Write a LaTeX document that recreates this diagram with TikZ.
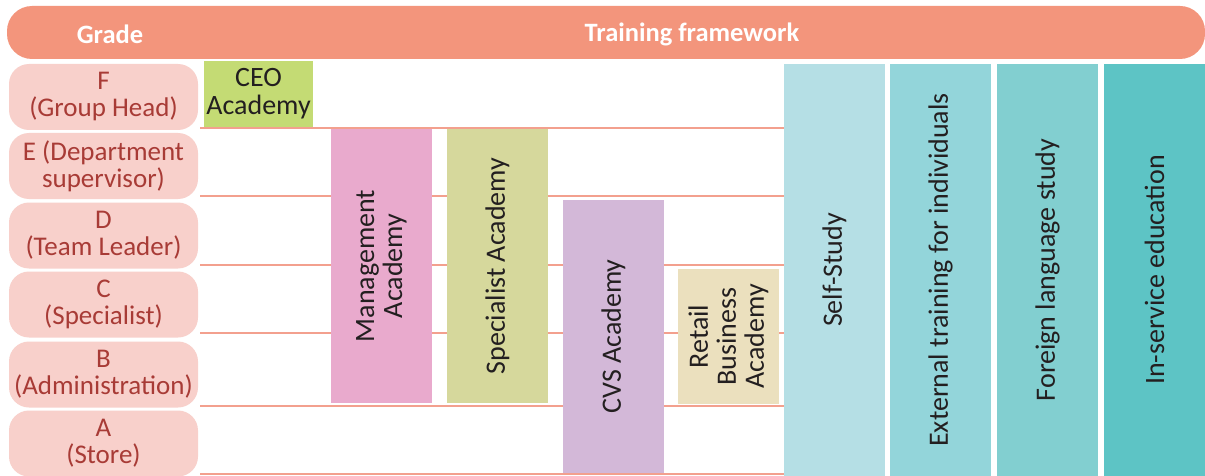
\documentclass[tikz,border=0pt]{standalone}
\usepackage{fontspec}
\setmainfont{Carlito}
\definecolor{hdrc}{HTML}{F3957C}
\definecolor{pillc}{HTML}{F8D0CB}
\definecolor{gradetxt}{HTML}{A83B36}
\definecolor{linec}{HTML}{F3A08E}
\definecolor{txtc}{HTML}{231F20}
\definecolor{ceoc}{HTML}{C4DB74}
\definecolor{mgmtc}{HTML}{E9AACD}
\definecolor{specc}{HTML}{D6D89C}
\definecolor{cvsc}{HTML}{D3B8D8}
\definecolor{retc}{HTML}{EBE0BE}
\definecolor{selfc}{HTML}{B5DFE5}
\definecolor{extc}{HTML}{93D5DA}
\definecolor{forc}{HTML}{82CFD0}
\definecolor{insc}{HTML}{5DC4C5}
\begin{document}
\begin{tikzpicture}[x=1pt,y=-1pt,
  hdr/.style={fill=hdrc, rounded corners=25pt, draw=none, inner sep=0pt},
  hdrtext/.style={text=white, font=\bfseries\fontsize{26.5}{27}\selectfont, inner sep=0pt},
  gradebox/.style={fill=pillc, rounded corners=20pt, minimum width=189pt, minimum height=66pt, align=center, text=gradetxt, inner sep=0pt, font=\fontsize{27}{27}\selectfont},
  acad/.style={align=center, inner sep=0pt, text=txtc, font=\fontsize{28}{28}\selectfont},
  vacad/.style={acad, rotate=90},
  rowline/.style={draw=linec, line width=1.6pt}]
\useasboundingbox (0,0) rectangle (1205,476);
\fill[white] (0,0) rectangle (1205,476);
% header
\node[hdr, minimum width=1198pt, minimum height=53pt] (header) at (606,32.5) {};
\node[hdrtext] (gradehdr) at (110,34) {Grade};
\node[hdrtext] (tfhdr) at (692,34) {Training framework};
% grade pills
\node[gradebox] (gF) at (103.5,97) {F\\(Group Head)};
\node[gradebox] (gE) at (103.5,166) {E (Department\\supervisor)};
\node[gradebox] (gD) at (103.5,235.5) {D\\(Team Leader)};
\node[gradebox] (gC) at (103.5,304.5) {C\\(Specialist)};
\node[gradebox] (gB) at (103.5,374.5) {B\\(Administration)};
\node[gradebox] (gA) at (103.5,443.5) {A\\(Store)};
% row lines
\foreach \yy in {128,196,265,333,406,474}{
  \draw[rowline] (200,\yy) -- (785,\yy);
}
% academies
\node[acad, fill=ceoc, minimum width=109pt, minimum height=66pt] (ceo) at (258.5,94) {CEO\\Academy};
\node[vacad, fill=mgmtc, minimum width=274pt, minimum height=101pt] (mgmt) at (381.5,266) {Management\\Academy};
\node[vacad, fill=specc, minimum width=274pt, minimum height=101pt] (spec) at (497.5,266) {Specialist Academy};
\node[vacad, fill=cvsc, minimum width=273pt, minimum height=101pt] (cvs) at (613.5,336.5) {CVS Academy};
\node[vacad, fill=retc, minimum width=135pt, minimum height=101pt] (ret) at (728.5,336.5) {Retail\\Business\\Academy};
\node[vacad, fill=selfc, minimum width=412pt, minimum height=101pt] (self) at (834.5,270) {Self-Study};
\node[vacad, fill=extc, minimum width=412pt, minimum height=101pt] (ext) at (940.5,270) {External training for individuals};
\node[vacad, fill=forc, minimum width=412pt, minimum height=101pt] (for) at (1047.5,270) {Foreign language study};
\node[vacad, fill=insc, minimum width=412pt, minimum height=101pt] (ins) at (1154.5,270) {In-service education};
\end{tikzpicture}
\end{document}
